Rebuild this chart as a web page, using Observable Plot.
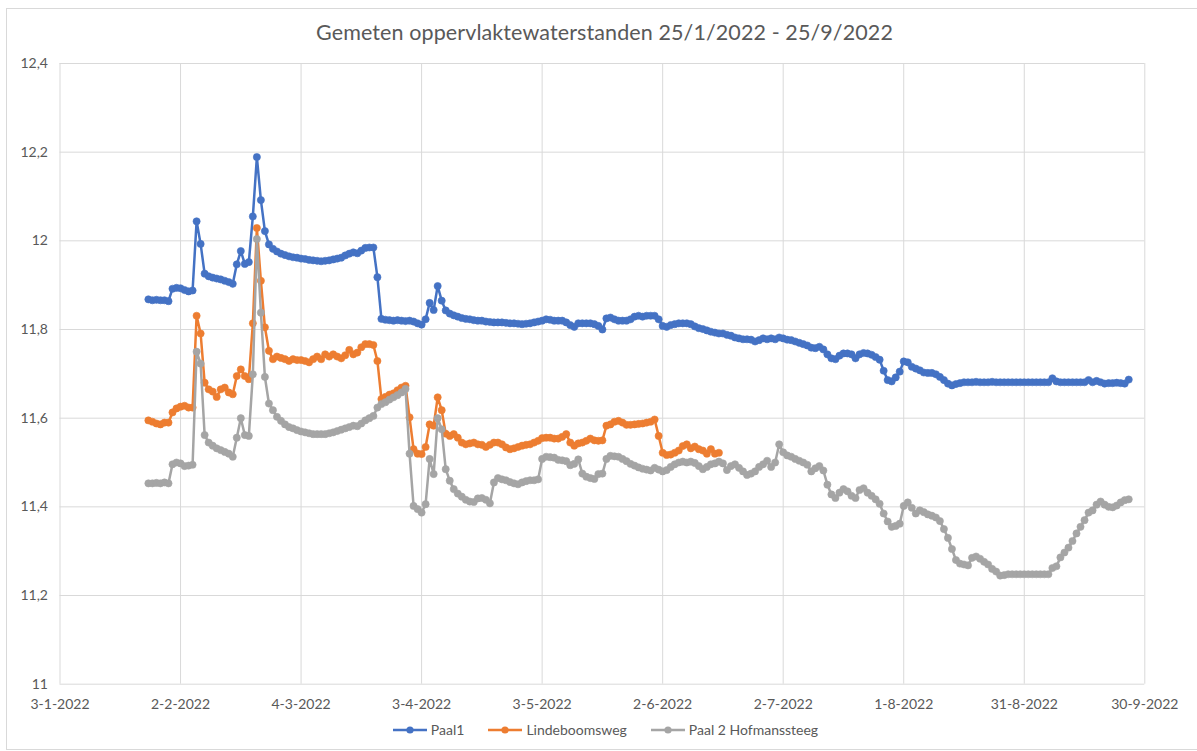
<!DOCTYPE html>
<html><head><meta charset="utf-8">
<script src="https://cdn.jsdelivr.net/npm/d3@7"></script>
<script src="https://cdn.jsdelivr.net/npm/@observablehq/plot@0.6"></script>
<style>
body{margin:0;background:#fff;font-family:Lato,"Open Sans",sans-serif;}
#wrap{position:relative;width:1197px;height:751px;overflow:hidden;background:#fff;}
#frame{position:absolute;left:6px;top:8px;width:1200px;height:742px;border:1px solid #d9d9d9;box-sizing:border-box;}
#title{position:absolute;top:19px;left:6px;width:1197px;text-align:center;font-size:21.5px;color:#595959;letter-spacing:0.1px;}
#chart{position:absolute;left:0;top:0;}
#legend{position:absolute;top:721px;left:0;width:1197px;display:flex;justify-content:center;gap:24px;font-size:14px;color:#595959;padding-left:14px;box-sizing:border-box;}
.item{display:flex;align-items:center;gap:4px;}
</style></head>
<body><div id="wrap"><div id="frame"></div><div id="title"></div><div id="chart"></div><div id="legend"></div></div>
<script>
const titleText = "Gemeten oppervlaktewaterstanden 25/1/2022 - 25/9/2022";
const seriesNames = ["Paal1", "Lindeboomsweg", "Paal 2 Hofmanssteeg"];
const seriesColors = ["#4472C4", "#ED7D31", "#A5A5A5"];
const startDate = "2022-01-25"; // first daily measurement
const xTickLabels = ["2022-01-03","2022-02-02","2022-03-04","2022-04-03","2022-05-03","2022-06-02","2022-07-02","2022-08-01","2022-08-31","2022-09-30"];
const yTickValues = [11, 11.2, 11.4, 11.6, 11.8, 12, 12.2, 12.4];

// Paal1, daily from 25-1-2022
const paal1 = [
  11.868, 11.866, 11.867, 11.866, 11.866, 11.864, 11.892,
  11.894, 11.893, 11.889, 11.886, 11.888, 12.044, 11.993, 11.926, 11.920, 11.917, 11.915, 11.913, 11.910, 11.907, 11.903, 11.947, 11.977, 11.948, 11.952, 12.055, 12.189, 12.092, 12.022, 11.992, 11.982, 11.976, 11.971, 11.968,
  11.965, 11.963, 11.962, 11.960, 11.959, 11.957, 11.956, 11.955, 11.954, 11.955, 11.956, 11.958, 11.960, 11.962, 11.967, 11.971, 11.974, 11.972, 11.978, 11.984, 11.985, 11.985, 11.918, 11.824, 11.822, 11.821, 11.820, 11.821, 11.820, 11.819, 11.820,
  11.818, 11.814, 11.811, 11.823, 11.860, 11.844, 11.898, 11.865, 11.843, 11.836, 11.832, 11.829, 11.826, 11.824, 11.823, 11.821, 11.820, 11.820, 11.818, 11.817, 11.816, 11.816, 11.816, 11.815, 11.814, 11.814, 11.813, 11.812, 11.813, 11.814,
  11.816, 11.818, 11.820, 11.823, 11.822, 11.820, 11.820, 11.820, 11.816, 11.810, 11.806, 11.814, 11.814, 11.814, 11.814, 11.812, 11.808, 11.800, 11.825, 11.827, 11.823, 11.820, 11.820, 11.820, 11.823, 11.829, 11.831, 11.829, 11.831, 11.831, 11.831,
  11.823, 11.808, 11.806, 11.810, 11.812, 11.814, 11.814, 11.814, 11.812, 11.807, 11.803, 11.801, 11.798, 11.795, 11.793, 11.791, 11.791, 11.788, 11.786, 11.782, 11.780, 11.778, 11.778, 11.777, 11.773, 11.776, 11.780, 11.778, 11.780, 11.778,
  11.782, 11.780, 11.777, 11.776, 11.773, 11.770, 11.767, 11.764, 11.759, 11.758, 11.761, 11.755, 11.744, 11.735, 11.733, 11.741, 11.746, 11.746, 11.744, 11.735, 11.744, 11.747, 11.746, 11.743, 11.738, 11.732, 11.707, 11.686, 11.683, 11.692, 11.705,
  11.728, 11.726, 11.716, 11.712, 11.708, 11.703, 11.702, 11.702, 11.699, 11.693, 11.686, 11.678, 11.674, 11.677, 11.679, 11.681, 11.681, 11.681, 11.682, 11.681, 11.681, 11.681, 11.682, 11.681, 11.681, 11.681, 11.681, 11.681, 11.681, 11.681, 11.681,
  11.681, 11.681, 11.681, 11.681, 11.681, 11.681, 11.690, 11.683, 11.681, 11.681, 11.681, 11.681, 11.681, 11.681, 11.681, 11.686, 11.681, 11.684, 11.681, 11.678, 11.679, 11.679, 11.680, 11.679, 11.678, 11.687
];

// Lindeboomsweg, daily from 25-1-2022
const lindeboomsweg = [
  11.595, 11.592, 11.588, 11.586, 11.590, 11.590, 11.613,
  11.622, 11.626, 11.628, 11.624, 11.624, 11.831, 11.791, 11.680, 11.665, 11.660, 11.648, 11.665, 11.669, 11.658, 11.654, 11.695, 11.710, 11.695, 11.688, 11.814, 12.029, 11.910, 11.805, 11.752, 11.733, 11.739, 11.736, 11.733,
  11.729, 11.733, 11.731, 11.731, 11.729, 11.726, 11.733, 11.739, 11.733, 11.744, 11.739, 11.744, 11.739, 11.735, 11.742, 11.754, 11.744, 11.748, 11.760, 11.767, 11.767, 11.765, 11.729, 11.643, 11.648, 11.653, 11.656, 11.663, 11.669, 11.673, 11.602,
  11.530, 11.520, 11.519, 11.535, 11.586, 11.583, 11.647, 11.618, 11.565, 11.560, 11.564, 11.556, 11.545, 11.541, 11.543, 11.545, 11.541, 11.540, 11.535, 11.540, 11.545, 11.545, 11.541, 11.534, 11.530, 11.532, 11.535, 11.538, 11.540, 11.541,
  11.545, 11.549, 11.555, 11.556, 11.556, 11.554, 11.554, 11.558, 11.564, 11.545, 11.538, 11.543, 11.545, 11.549, 11.554, 11.550, 11.549, 11.550, 11.583, 11.586, 11.592, 11.594, 11.590, 11.585, 11.585, 11.586, 11.587, 11.588, 11.590, 11.592, 11.597,
  11.560, 11.522, 11.517, 11.518, 11.522, 11.527, 11.537, 11.541, 11.532, 11.536, 11.530, 11.527, 11.520, 11.530, 11.520, 11.522
];

// Paal 2 Hofmanssteeg, daily from 25-1-2022
const paal2 = [
  11.453, 11.453, 11.454, 11.453, 11.455, 11.453, 11.496,
  11.500, 11.498, 11.492, 11.493, 11.495, 11.750, 11.723, 11.562, 11.545, 11.538, 11.532, 11.528, 11.524, 11.520, 11.513, 11.556, 11.600, 11.562, 11.560, 11.699, 12.004, 11.838, 11.693, 11.633, 11.618, 11.603, 11.594, 11.586,
  11.580, 11.577, 11.573, 11.570, 11.568, 11.566, 11.564, 11.564, 11.564, 11.564, 11.566, 11.568, 11.571, 11.574, 11.577, 11.580, 11.583, 11.582, 11.588, 11.595, 11.600, 11.605, 11.624, 11.632, 11.636, 11.642, 11.647, 11.652, 11.658, 11.666, 11.520,
  11.402, 11.395, 11.387, 11.406, 11.508, 11.474, 11.600, 11.575, 11.485, 11.459, 11.440, 11.430, 11.423, 11.416, 11.412, 11.411, 11.419, 11.420, 11.416, 11.408, 11.455, 11.465, 11.462, 11.460, 11.456, 11.453, 11.451, 11.455, 11.458, 11.460,
  11.460, 11.462, 11.508, 11.513, 11.512, 11.511, 11.506, 11.505, 11.503, 11.494, 11.497, 11.507, 11.475, 11.468, 11.465, 11.463, 11.474, 11.475, 11.508, 11.515, 11.514, 11.513, 11.508, 11.503, 11.497, 11.493, 11.489, 11.486, 11.484, 11.482, 11.488,
  11.484, 11.480, 11.483, 11.490, 11.496, 11.500, 11.502, 11.500, 11.502, 11.499, 11.492, 11.485, 11.490, 11.496, 11.498, 11.502, 11.498, 11.483, 11.492, 11.496, 11.488, 11.480, 11.472, 11.475, 11.480, 11.490, 11.496, 11.504, 11.490, 11.500,
  11.541, 11.523, 11.516, 11.513, 11.508, 11.504, 11.500, 11.495, 11.480, 11.487, 11.492, 11.482, 11.450, 11.428, 11.420, 11.432, 11.440, 11.435, 11.425, 11.420, 11.438, 11.442, 11.432, 11.425, 11.417, 11.407, 11.385, 11.367, 11.355, 11.357, 11.362,
  11.402, 11.410, 11.398, 11.385, 11.392, 11.388, 11.383, 11.380, 11.376, 11.368, 11.350, 11.330, 11.305, 11.280, 11.272, 11.270, 11.268, 11.285, 11.288, 11.283, 11.276, 11.270, 11.260, 11.254, 11.245, 11.246, 11.248, 11.248, 11.248, 11.248, 11.248,
  11.248, 11.248, 11.248, 11.248, 11.248, 11.248, 11.262, 11.266, 11.286, 11.297, 11.308, 11.323, 11.340, 11.355, 11.370, 11.387, 11.392, 11.405, 11.412, 11.405, 11.400, 11.399, 11.403, 11.410, 11.415, 11.417
];

const seriesValues = [paal1, lindeboomsweg, paal2];
const parse = d3.utcParse("%Y-%m-%d");
const start = parse(startDate);
const xTicks = xTickLabels.map(parse);
const rowsFor = (name, vals) => vals.map((v, i) => ({date: d3.utcDay.offset(start, i), value: v, series: name}));
const data = seriesNames.map((n, i) => rowsFor(n, seriesValues[i]));

const fmtDate = d => `${d.getUTCDate()}-${d.getUTCMonth() + 1}-${d.getUTCFullYear()}`;
const fmtNum = d => String(d).replace(".", ",");

const marks = [
  Plot.gridX(xTicks, {stroke: "#d9d9d9", strokeOpacity: 1, strokeWidth: 1}),
  Plot.gridY(yTickValues, {stroke: "#d9d9d9", strokeOpacity: 1, strokeWidth: 1}),
  Plot.axisX(xTicks, {tickFormat: fmtDate, tickSize: 0, tickPadding: 15, fontSize: 14, fill: "#595959", label: null}),
  Plot.axisY(yTickValues, {tickFormat: fmtNum, tickSize: 0, tickPadding: 12, fontSize: 14, fill: "#595959", label: null})
];
seriesNames.forEach((n, i) => {
  marks.push(Plot.line(data[i], {x: "date", y: "value", stroke: seriesColors[i], strokeWidth: 2.5}));
  marks.push(Plot.dot(data[i], {x: "date", y: "value", fill: seriesColors[i], stroke: seriesColors[i], strokeWidth: 0.6, r: 3.6}));
});

const chart = Plot.plot({
  width: 1197, height: 725,
  marginLeft: 59.5, marginRight: 52.7, marginTop: 63, marginBottom: 41.3,
  style: {fontFamily: "Lato, 'Open Sans', sans-serif", background: "transparent", color: "#595959"},
  x: {type: "utc", domain: [xTicks[0], xTicks[xTicks.length - 1]], label: null},
  y: {domain: [11, 12.4], label: null},
  marks
});
document.getElementById("chart").appendChild(chart);
document.getElementById("title").textContent = titleText;

const legend = document.getElementById("legend");
seriesNames.forEach((n, i) => {
  const it = document.createElement("div");
  it.className = "item";
  it.innerHTML = `<svg width="34" height="12"><line x1="0" y1="6" x2="34" y2="6" stroke="${seriesColors[i]}" stroke-width="2.5"/><circle cx="17" cy="6" r="3.6" fill="${seriesColors[i]}"/></svg><span>${n}</span>`;
  legend.appendChild(it);
});
</script></body></html>
